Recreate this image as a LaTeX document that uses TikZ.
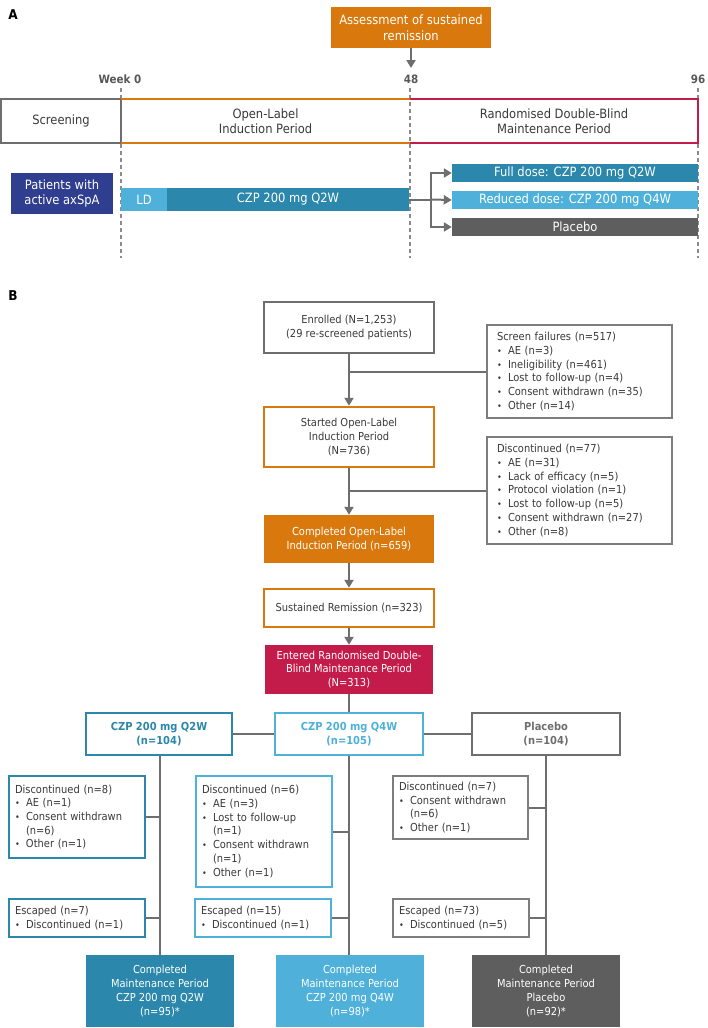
\documentclass[tikz,border=0pt]{standalone}
\usepackage{fontspec}
\setmainfont{DejaVu Sans}[FakeStretch=0.9]
\usetikzlibrary{arrows.meta}

\definecolor{cOrange}{HTML}{D9790D}
\definecolor{cRed}{HTML}{C31C4A}
\definecolor{cTeal}{HTML}{2B87AB}
\definecolor{cSky}{HTML}{4FB0D9}
\definecolor{cPlac}{HTML}{5E5E5E}
\definecolor{cNavy}{HTML}{2F3E8F}
\definecolor{cLine}{HTML}{6E6E6E}
\definecolor{cText}{HTML}{3A3A3A}

\newcommand{\bul}{\makebox[11pt][l]{\small\textbullet}}
\newcommand{\ind}{\hspace*{11pt}}
\newcommand{\fsA}{\fontsize{12.8}{15.5}\selectfont}
\newcommand{\fsB}{\fontsize{11}{13.7}\selectfont}

\begin{document}
\begin{tikzpicture}[x=1pt,y=-1pt,
    every node/.style={text=cText,font=\fsB,inner sep=2pt},
    panel/.style={font=\fontsize{13.5}{14}\selectfont\bfseries,text=black},
    weeklab/.style={font=\fontsize{11.5}{12}\selectfont\bfseries,text=cText!85},
    dashline/.style={draw=cLine!80,line width=1.2pt,dash pattern=on 4pt off 3pt},
    barA/.style={fill=#1,text=white,font=\fsA,inner sep=0pt},
    flowbox/.style={draw=#1,line width=2.5pt,align=center,minimum width=170pt},
    fillbox/.style={fill=#1,text=white,align=center,minimum width=170pt},
    armbox/.style={draw=#1,text=#1,line width=2.5pt,font=\fsB\bfseries,align=center,minimum width=148pt,minimum height=42pt},
    sidebox/.style={draw=#1,line width=1.6pt,align=left,inner xsep=6pt,text width=124pt},
    endbox/.style={fill=#1,text=white,align=center,minimum width=148pt,minimum height=72pt},
    conn/.style={draw=cLine,line width=2pt},
    arr/.style={conn,-{Triangle[length=8pt,width=9pt]}}]
    \useasboundingbox[fill=white] (0,0) rectangle (708,1028);

    % A: study design
    \node[panel] (labA) at (13,15) {A};
    \node[barA=cOrange,minimum width=160pt,minimum height=41pt,align=center] (assess) at (411,27.5) {Assessment of sustained\\remission};
    \coordinate (w48top) at (411,68);
    \draw[arr] (assess) -- (w48top);

    \node[weeklab] (wk0) at (120,79) {Week 0};
    \node[weeklab] (wk48) at (411,79) {48};
    \node[weeklab] (wk96) at (698,79) {96};
    \foreach \x in {121,410,698}
        \draw[dashline] (\x,88) -- (\x,258);

    \node[draw=cLine,line width=2.5pt,minimum width=120pt,minimum height=44pt,font=\fsA] (scr) at (61,121) {Screening};
    \node[minimum width=289pt,minimum height=44pt,align=center,font=\fsA] (olp) at (265.5,121) {Open-Label\\Induction Period};
    \draw[cOrange,line width=2.5pt] (olp.north west) -- (olp.north east) (olp.south west) -- (olp.south east);
    \node[minimum width=288pt,minimum height=44pt,align=center,font=\fsA] (rdp) at (554,121) {Randomised Double-Blind\\Maintenance Period};
    \draw[cRed,line width=2.5pt] (rdp.north west) -- (rdp.north east) -- (rdp.south east) -- (rdp.south west);

    \node[barA=cNavy,minimum width=102pt,minimum height=41pt,align=center] (pat) at (62,193.5) {Patients with\\active axSpA};
    \node[barA=cSky,minimum width=46pt,minimum height=23pt] (ld) at (144,199.5) {LD};
    \node[barA=cTeal,minimum width=242pt,minimum height=23pt] (czp) at (288,199.5) {CZP 200 mg Q2W};
    \node[barA=cTeal,minimum width=246pt,minimum height=18pt] (full) at (575,173) {Full dose: CZP 200 mg Q2W};
    \node[barA=cSky,minimum width=246pt,minimum height=18pt] (redu) at (575,200) {Reduced dose: CZP 200 mg Q4W};
    \node[barA=cPlac,minimum width=246pt,minimum height=18pt] (plac) at (575,227) {Placebo};
    \coordinate (brn) at (431,199.5);
    \draw[conn] (czp.east) -- (brn);
    \draw[arr] (brn) |- (full.west);
    \draw[arr] (brn) -- (redu.west);
    \draw[arr] (brn) |- (plac.west);

    % B: patient flow
    \node[panel] (labB) at (13,296) {B};
    \node[flowbox=cLine,minimum height=51pt] (enrol) at (349,327.5) {Enrolled (N=1,253)\\(29 re-screened patients)};
    \node[sidebox=cLine!90,text width=165pt,inner xsep=10pt,minimum height=93pt] (sf) at (579.5,371.5) {Screen failures (n=517)\\
        \bul AE (n=3)\\\bul Ineligibility (n=461)\\\bul Lost to follow-up (n=4)\\\bul Consent withdrawn (n=35)\\\bul Other (n=14)};
    \node[flowbox=cOrange,minimum height=60pt] (start) at (349,437) {Started Open-Label\\Induction Period\\(N=736)};
    \node[sidebox=cLine!90,text width=165pt,inner xsep=10pt,minimum height=107pt] (d77) at (579.5,490.5) {Discontinued (n=77)\\
        \bul AE (n=31)\\\bul Lack of efficacy (n=5)\\\bul Protocol violation (n=1)\\\bul Lost to follow-up (n=5)\\\bul Consent withdrawn (n=27)\\\bul Other (n=8)};
    \node[fillbox=cOrange,minimum height=48pt] (compol) at (349,539) {Completed Open-Label\\Induction Period (n=659)};
    \node[flowbox=cOrange,minimum height=38pt] (sust) at (349,608) {Sustained Remission (n=323)};
    \node[fillbox=cRed,minimum width=168pt,minimum height=49pt] (entr) at (349,669.5) {Entered Randomised Double-\\Blind Maintenance Period\\(N=313)};
    \foreach \a/\b in {enrol/start,start/compol,compol/sust,sust/entr}
        \draw[arr] (\a) -- (\b);
    \draw[conn] (sf.west) -- (sf.west -| enrol.south);
    \draw[conn] (d77.west) -- (d77.west -| start.south);

    \node[armbox=cTeal,minimum width=146pt] (q2w) at (159,734) {CZP 200 mg Q2W\\(n=104)};
    \node[armbox=cSky] (q4w) at (349,734) {CZP 200 mg Q4W\\(n=105)};
    \node[armbox=cLine] (pla) at (546,734) {Placebo\\(n=104)};
    \draw[conn] (entr) -- (q4w);
    \draw[conn] (q2w) -- (q4w);
    \draw[conn] (q4w) -- (pla);

    \node[sidebox=cTeal,minimum height=82pt] (dq2) at (77,817) {Discontinued (n=8)\\
        \bul AE (n=1)\\\bul Consent withdrawn\\\ind(n=6)\\\bul Other (n=1)};
    \node[sidebox=cSky,minimum height=111pt] (dq4) at (264,831.5) {Discontinued (n=6)\\
        \bul AE (n=3)\\\bul Lost to follow-up\\\ind(n=1)\\\bul Consent withdrawn\\\ind(n=1)\\\bul Other (n=1)};
    \node[sidebox=cLine!90,text width=123pt,minimum height=63pt] (dpl) at (460.5,807.5) {Discontinued (n=7)\\
        \bul Consent withdrawn\\\ind(n=6)\\\bul Other (n=1)};
    \node[sidebox=cTeal,minimum height=38pt] (eq2) at (77,918) {Escaped (n=7)\\\bul Discontinued (n=1)};
    \node[sidebox=cSky,minimum height=38pt] (eq4) at (263,918) {Escaped (n=15)\\\bul Discontinued (n=1)};
    \node[sidebox=cLine!90,minimum height=38pt] (epl) at (461,918) {Escaped (n=73)\\\bul Discontinued (n=5)};

    \node[endbox=cTeal] (c2) at (160,991) {Completed\\Maintenance Period\\CZP 200 mg Q2W\\(n=95)*};
    \node[endbox=cSky] (c4) at (350,991) {Completed\\Maintenance Period\\CZP 200 mg Q4W\\(n=98)*};
    \node[endbox=cPlac] (cp) at (546,991) {Completed\\Maintenance Period\\Placebo\\(n=92)*};
    \draw[conn] (q2w.south -| c2.north) -- (c2);
    \draw[conn] (q4w) -- (q4w |- c4.north);
    \draw[conn] (pla) -- (cp);
    \foreach \b/\m in {dq2/q2w,eq2/q2w,dq4/q4w,eq4/q4w,dpl/pla,epl/pla}
        \draw[conn] (\b.east) -- (\b.east -| \m.south);
\end{tikzpicture}
\end{document}
